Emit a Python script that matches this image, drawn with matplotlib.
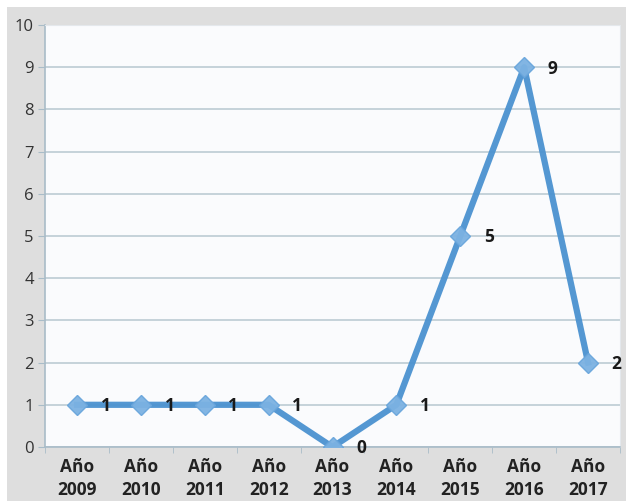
import matplotlib
matplotlib.use('Agg')
import matplotlib.pyplot as plt
from matplotlib.patches import Rectangle

years = ['2009', '2010', '2011', '2012', '2013', '2014', '2015', '2016', '2017']
values = [1, 1, 1, 1, 0, 1, 5, 9, 2]
labels = ['Año\n' + y for y in years]

plt.rcParams['font.family'] = ['Open Sans', 'DejaVu Sans']

fig = plt.figure(figsize=(6.26, 5.01), dpi=100, facecolor='white')
# gray chart area with a thin white margin at top/left
fig.patches.append(Rectangle((7 / 626, 0), 1 - 7 / 626, 1 - 7 / 501,
                             transform=fig.transFigure, facecolor='#dedede',
                             edgecolor='none', zorder=-5))

ax = fig.add_axes([45 / 626, 54 / 501, 575 / 626, 422 / 501])
ax.set_facecolor('#fafbfd')

x = list(range(len(years)))
ax.plot(x, values, color='#4b92d0', linewidth=4.5, zorder=3, alpha=0.95,
        marker='D', markersize=10.5, markerfacecolor='#7cb2e2',
        markeredgecolor='#6aa6dc', markeredgewidth=1)

for xi, v in zip(x, values):
    ax.annotate(str(v), (xi, v), xytext=(17, -1), textcoords='offset points',
                ha='left', va='center', fontsize=12.5, fontweight='bold',
                color='#1a1a1a', zorder=4)

ax.set_xlim(-0.5, len(years) - 0.5)
ax.set_ylim(0, 10)
ax.set_yticks(range(0, 11))
ax.yaxis.grid(True, color='#b7c7d0', linewidth=1.1)
ax.set_axisbelow(True)

ax.set_xticks(x)
ax.set_xticklabels(labels, fontsize=12.5, fontweight='bold', color='#222222',
                   linespacing=1.35)
ax.set_xticks([i - 0.5 for i in range(len(years) + 1)], minor=True)
ax.tick_params(axis='x', which='major', length=0, pad=8)
ax.tick_params(axis='x', which='minor', length=4, color='#a9bcc8')
ax.tick_params(axis='y', length=5, color='#a9bcc8', labelsize=12,
               labelcolor='#333333', pad=3)

for side in ['top', 'right']:
    ax.spines[side].set_color('#e4e8ec')
for side in ['left', 'bottom']:
    ax.spines[side].set_color('#a9bcc8')
    ax.spines[side].set_linewidth(1.2)

fig.savefig('out.png', dpi=100, facecolor=fig.get_facecolor())
